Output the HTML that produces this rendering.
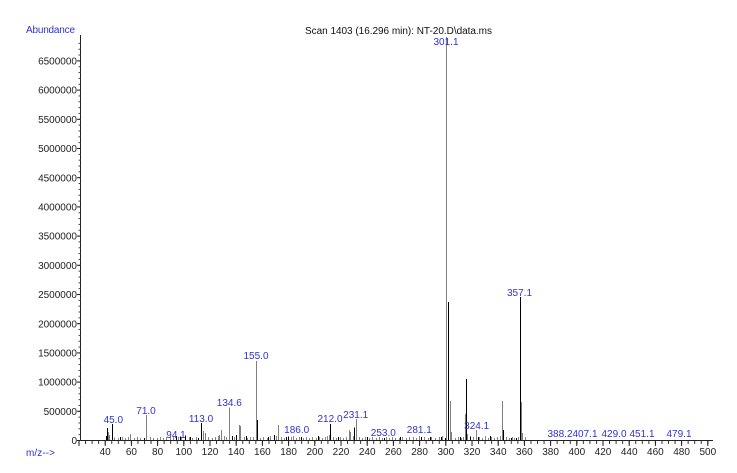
<!DOCTYPE html>
<html><head><meta charset="utf-8"><style>
html,body{margin:0;padding:0;background:#fff;}
svg{display:block;font-family:"Liberation Sans",Arial,sans-serif;}
</style></head><body>
<svg width="737" height="473" viewBox="0 0 737 473" xmlns="http://www.w3.org/2000/svg">
<defs>
<pattern id="xmin" patternUnits="userSpaceOnUse" x="78.5" y="0" width="6.55" height="10"><rect x="0" y="0" width="1" height="10" fill="#333"/></pattern>
<pattern id="xmaj" patternUnits="userSpaceOnUse" x="78.5" y="0" width="26.2" height="10"><rect x="0" y="0" width="1" height="10" fill="#222"/></pattern>
<pattern id="ymin" patternUnits="userSpaceOnUse" x="0" y="440" width="10" height="5.84"><rect x="0" y="0" width="10" height="1" fill="#444"/></pattern>
</defs>
<rect width="737" height="473" fill="#fff"/>

<!-- headers -->
<text x="26" y="33" font-size="10" fill="#3030d8" textLength="49">Abundance</text>
<text x="26" y="456" font-size="10" fill="#3030d8" textLength="29">m/z--&gt;</text>
<text x="305" y="34" font-size="10" fill="#111" textLength="187">Scan 1403 (16.296 min): NT-20.D\data.ms</text>

<!-- axes -->
<line x1="80.5" y1="35" x2="80.5" y2="441" stroke="#222" stroke-width="1"/>
<line x1="80" y1="440.5" x2="713" y2="440.5" stroke="#222" stroke-width="1"/>
<rect x="78.5" y="441" width="635" height="3" fill="url(#xmin)"/>
<rect x="78.5" y="441" width="635" height="5" fill="url(#xmaj)"/>
<rect x="78.5" y="40" width="2" height="401" fill="url(#ymin)"/>

<!-- y ticks -->
<g stroke="#222" stroke-width="1">
<line x1="77" y1="440.5" x2="80" y2="440.5"/><line x1="77" y1="411.3" x2="80" y2="411.3"/><line x1="77" y1="382.1" x2="80" y2="382.1"/><line x1="77" y1="352.9" x2="80" y2="352.9"/><line x1="77" y1="323.7" x2="80" y2="323.7"/><line x1="77" y1="294.5" x2="80" y2="294.5"/><line x1="77" y1="265.3" x2="80" y2="265.3"/><line x1="77" y1="236.1" x2="80" y2="236.1"/><line x1="77" y1="206.9" x2="80" y2="206.9"/><line x1="77" y1="177.7" x2="80" y2="177.7"/><line x1="77" y1="148.5" x2="80" y2="148.5"/><line x1="77" y1="119.3" x2="80" y2="119.3"/><line x1="77" y1="90.1" x2="80" y2="90.1"/><line x1="77" y1="60.9" x2="80" y2="60.9"/>
</g>
<g font-size="10" fill="#222" text-anchor="end">
<text x="77" y="444.1">0</text>
<text x="77" y="414.9">500000</text>
<text x="77" y="385.7">1000000</text>
<text x="77" y="356.5">1500000</text>
<text x="77" y="327.3">2000000</text>
<text x="77" y="298.1">2500000</text>
<text x="77" y="268.9">3000000</text>
<text x="77" y="239.7">3500000</text>
<text x="77" y="210.5">4000000</text>
<text x="77" y="181.3">4500000</text>
<text x="77" y="152.1">5000000</text>
<text x="77" y="122.9">5500000</text>
<text x="77" y="93.7">6000000</text>
<text x="77" y="64.5">6500000</text>
</g>

<!-- x labels -->
<g font-size="10" fill="#222" text-anchor="middle">
<text x="105.2" y="455">40</text><text x="131.4" y="455">60</text><text x="157.6" y="455">80</text><text x="183.8" y="455">100</text><text x="210" y="455">120</text><text x="236.2" y="455">140</text><text x="262.4" y="455">160</text><text x="288.6" y="455">180</text><text x="314.8" y="455">200</text><text x="341" y="455">220</text><text x="367.2" y="455">240</text><text x="393.4" y="455">260</text><text x="419.6" y="455">280</text><text x="445.8" y="455">300</text><text x="472" y="455">320</text><text x="498.2" y="455">340</text><text x="524.4" y="455">360</text><text x="550.6" y="455">380</text><text x="576.8" y="455">400</text><text x="603" y="455">420</text><text x="629.2" y="455">440</text><text x="655.4" y="455">460</text><text x="681.6" y="455">480</text><text x="707.8" y="455">500</text>
</g>

<!-- noise gray -->
<g stroke="#888" stroke-width="1">
<line x1="118.5" y1="440" x2="118.5" y2="438"/><line x1="122.5" y1="440" x2="122.5" y2="437"/><line x1="125.5" y1="440" x2="125.5" y2="438"/><line x1="128.5" y1="440" x2="128.5" y2="437"/><line x1="134.5" y1="440" x2="134.5" y2="438"/><line x1="137.5" y1="440" x2="137.5" y2="437"/><line x1="140.5" y1="440" x2="140.5" y2="438"/><line x1="150.5" y1="440" x2="150.5" y2="437"/><line x1="153.5" y1="440" x2="153.5" y2="438"/><line x1="157.5" y1="440" x2="157.5" y2="438"/><line x1="160.5" y1="440" x2="160.5" y2="437"/><line x1="163.5" y1="440" x2="163.5" y2="438"/><line x1="166.5" y1="440" x2="166.5" y2="437"/><line x1="170.5" y1="440" x2="170.5" y2="437"/><line x1="173.5" y1="440" x2="173.5" y2="436"/><line x1="178.5" y1="440" x2="178.5" y2="438"/><line x1="181.5" y1="440" x2="181.5" y2="437"/><line x1="189.5" y1="440" x2="189.5" y2="437"/><line x1="192.5" y1="440" x2="192.5" y2="438"/><line x1="196.5" y1="440" x2="196.5" y2="437"/><line x1="208.5" y1="440" x2="208.5" y2="437"/><line x1="212.5" y1="440" x2="212.5" y2="438"/><line x1="215.5" y1="440" x2="215.5" y2="437"/><line x1="218.5" y1="440" x2="218.5" y2="436"/><line x1="224.5" y1="440" x2="224.5" y2="436"/><line x1="226.5" y1="440" x2="226.5" y2="437"/><line x1="232.5" y1="440" x2="232.5" y2="438"/><line x1="234.5" y1="440" x2="234.5" y2="437"/><line x1="244.5" y1="440" x2="244.5" y2="437"/><line x1="247.5" y1="440" x2="247.5" y2="438"/><line x1="250.5" y1="440" x2="250.5" y2="437"/><line x1="253.5" y1="440" x2="253.5" y2="437"/><line x1="260.5" y1="440" x2="260.5" y2="438"/><line x1="263.5" y1="440" x2="263.5" y2="437"/><line x1="267.5" y1="440" x2="267.5" y2="438"/><line x1="270.5" y1="440" x2="270.5" y2="436"/><line x1="276.5" y1="440" x2="276.5" y2="436"/><line x1="281.5" y1="440" x2="281.5" y2="437"/><line x1="284.5" y1="440" x2="284.5" y2="438"/><line x1="291.5" y1="440" x2="291.5" y2="437"/><line x1="293.5" y1="440" x2="293.5" y2="436"/><line x1="296.5" y1="440" x2="296.5" y2="438"/><line x1="299.5" y1="440" x2="299.5" y2="437"/><line x1="303.5" y1="440" x2="303.5" y2="438"/><line x1="306.5" y1="440" x2="306.5" y2="437"/><line x1="309.5" y1="440" x2="309.5" y2="438"/><line x1="312.5" y1="440" x2="312.5" y2="437"/><line x1="316.5" y1="440" x2="316.5" y2="438"/><line x1="319.5" y1="440" x2="319.5" y2="437"/><line x1="322.5" y1="440" x2="322.5" y2="438"/><line x1="325.5" y1="440" x2="325.5" y2="437"/><line x1="327.5" y1="440" x2="327.5" y2="436"/><line x1="333.5" y1="440" x2="333.5" y2="437"/><line x1="336.5" y1="440" x2="336.5" y2="438"/><line x1="340.5" y1="440" x2="340.5" y2="437"/><line x1="343.5" y1="440" x2="343.5" y2="438"/><line x1="346.5" y1="440" x2="346.5" y2="437"/><line x1="353.5" y1="440" x2="353.5" y2="436"/><line x1="359.5" y1="440" x2="359.5" y2="437"/><line x1="362.5" y1="440" x2="362.5" y2="438"/><line x1="365.5" y1="440" x2="365.5" y2="437"/><line x1="369.5" y1="440" x2="369.5" y2="438"/><line x1="372.5" y1="440" x2="372.5" y2="437"/><line x1="376.5" y1="440" x2="376.5" y2="438"/><line x1="379.5" y1="440" x2="379.5" y2="437"/><line x1="382.5" y1="440" x2="382.5" y2="438"/><line x1="386.5" y1="440" x2="386.5" y2="437"/><line x1="389.5" y1="440" x2="389.5" y2="438"/><line x1="392.5" y1="440" x2="392.5" y2="437"/><line x1="395.5" y1="440" x2="395.5" y2="438"/><line x1="399.5" y1="440" x2="399.5" y2="438"/><line x1="402.5" y1="440" x2="402.5" y2="437"/><line x1="406.5" y1="440" x2="406.5" y2="438"/><line x1="409.5" y1="440" x2="409.5" y2="437"/><line x1="413.5" y1="440" x2="413.5" y2="437"/><line x1="416.5" y1="440" x2="416.5" y2="438"/><line x1="419.5" y1="440" x2="419.5" y2="436"/><line x1="424.5" y1="440" x2="424.5" y2="437"/><line x1="428.5" y1="440" x2="428.5" y2="438"/><line x1="431.5" y1="440" x2="431.5" y2="437"/><line x1="435.5" y1="440" x2="435.5" y2="438"/><line x1="439.5" y1="440" x2="439.5" y2="437"/><line x1="442.5" y1="440" x2="442.5" y2="436"/><line x1="455.5" y1="440" x2="455.5" y2="438"/><line x1="458.5" y1="440" x2="458.5" y2="437"/><line x1="461.5" y1="440" x2="461.5" y2="438"/><line x1="473.5" y1="440" x2="473.5" y2="437"/><line x1="479.5" y1="440" x2="479.5" y2="437"/><line x1="482.5" y1="440" x2="482.5" y2="438"/><line x1="485.5" y1="440" x2="485.5" y2="436"/><line x1="488.5" y1="440" x2="488.5" y2="438"/><line x1="491.5" y1="440" x2="491.5" y2="437"/><line x1="494.5" y1="440" x2="494.5" y2="438"/><line x1="497.5" y1="440" x2="497.5" y2="437"/><line x1="500.5" y1="440" x2="500.5" y2="436"/><line x1="506.5" y1="440" x2="506.5" y2="437"/><line x1="509.5" y1="440" x2="509.5" y2="438"/><line x1="512.5" y1="440" x2="512.5" y2="437"/><line x1="514.5" y1="440" x2="514.5" y2="438"/><line x1="518.5" y1="440" x2="518.5" y2="437"/><line x1="525.5" y1="440" x2="525.5" y2="437"/>
</g>
<!-- noise black -->
<g stroke="#000" stroke-width="1">
<line x1="106.5" y1="440" x2="106.5" y2="436"/><line x1="120.5" y1="440" x2="120.5" y2="437"/><line x1="144.5" y1="440" x2="144.5" y2="438"/><line x1="176.5" y1="440" x2="176.5" y2="436"/><line x1="180.5" y1="440" x2="180.5" y2="436.5"/><line x1="190.5" y1="440" x2="190.5" y2="437"/><line x1="198.5" y1="440" x2="198.5" y2="438"/><line x1="232.5" y1="440" x2="232.5" y2="436"/><line x1="246.5" y1="440" x2="246.5" y2="436"/><line x1="268.5" y1="440" x2="268.5" y2="437"/><line x1="286.5" y1="440" x2="286.5" y2="437"/><line x1="301.5" y1="440" x2="301.5" y2="437"/><line x1="318.5" y1="440" x2="318.5" y2="436"/><line x1="338.5" y1="440" x2="338.5" y2="437"/><line x1="367.5" y1="440" x2="367.5" y2="437"/><line x1="384.5" y1="440" x2="384.5" y2="438"/><line x1="400.5" y1="440" x2="400.5" y2="437"/><line x1="430.5" y1="440" x2="430.5" y2="437"/><line x1="441.5" y1="440" x2="441.5" y2="437"/><line x1="460.5" y1="440" x2="460.5" y2="437"/><line x1="478.5" y1="440" x2="478.5" y2="437"/><line x1="490.5" y1="440" x2="490.5" y2="436"/><line x1="511.5" y1="440" x2="511.5" y2="438"/>
</g>

<!-- main gray peaks -->
<g stroke="#808080" stroke-width="1">
<line x1="108.5" y1="440" x2="108.5" y2="432"/><line x1="109.5" y1="440" x2="109.5" y2="435"/><line x1="114.5" y1="440" x2="114.5" y2="437.5"/><line x1="130.5" y1="440" x2="130.5" y2="434"/><line x1="146.5" y1="440" x2="146.5" y2="415"/><line x1="203.5" y1="440" x2="203.5" y2="431"/><line x1="205.5" y1="440" x2="205.5" y2="433"/><line x1="219.5" y1="440" x2="219.5" y2="435"/><line x1="221.5" y1="440" x2="221.5" y2="430"/><line x1="229.5" y1="440" x2="229.5" y2="407.5"/><line x1="239.5" y1="440" x2="239.5" y2="425"/><line x1="240.5" y1="440" x2="240.5" y2="426"/><line x1="256.5" y1="440" x2="256.5" y2="361"/><line x1="278.5" y1="440" x2="278.5" y2="425"/><line x1="329.5" y1="440" x2="329.5" y2="435"/><line x1="349.5" y1="440" x2="349.5" y2="430"/><line x1="350.5" y1="440" x2="350.5" y2="432"/><line x1="356.5" y1="440" x2="356.5" y2="419"/><line x1="446.5" y1="440" x2="446.5" y2="37"/><line x1="450.5" y1="440" x2="450.5" y2="401"/><line x1="451.5" y1="440" x2="451.5" y2="432"/><line x1="463.5" y1="440" x2="463.5" y2="437"/><line x1="465.5" y1="440" x2="465.5" y2="414"/><line x1="467.5" y1="440" x2="467.5" y2="434"/><line x1="476.5" y1="440" x2="476.5" y2="430"/><line x1="502.5" y1="440" x2="502.5" y2="401"/><line x1="521.5" y1="440" x2="521.5" y2="402"/><line x1="522.5" y1="440" x2="522.5" y2="433"/>
</g>
<!-- main black peaks -->
<g stroke="#000" stroke-width="1">
<line x1="107.5" y1="440" x2="107.5" y2="428"/><line x1="112.5" y1="440" x2="112.5" y2="424"/><line x1="185.5" y1="440" x2="185.5" y2="435.5"/><line x1="201.5" y1="440" x2="201.5" y2="423"/><line x1="236.5" y1="440" x2="236.5" y2="435"/><line x1="257.5" y1="440" x2="257.5" y2="420"/><line x1="274.5" y1="440" x2="274.5" y2="435"/><line x1="288.5" y1="440" x2="288.5" y2="436.5"/><line x1="330.5" y1="440" x2="330.5" y2="424"/><line x1="354.5" y1="440" x2="354.5" y2="427.5"/><line x1="421.5" y1="440" x2="421.5" y2="437"/><line x1="445.5" y1="440" x2="445.5" y2="438"/><line x1="448.5" y1="440" x2="448.5" y2="302"/><line x1="466.5" y1="440" x2="466.5" y2="379"/><line x1="470.5" y1="440" x2="470.5" y2="436.5"/><line x1="503.5" y1="440" x2="503.5" y2="430"/><line x1="516.5" y1="440" x2="516.5" y2="438"/><line x1="520.5" y1="440" x2="520.5" y2="297"/>
</g>

<!-- peak labels -->
<g font-size="10" fill="#3030d8" text-anchor="middle">
<text x="446" y="45">301.1</text>
<text x="519.5" y="296">357.1</text>
<text x="256" y="359">155.0</text>
<text x="229.3" y="406">134.6</text>
<text x="201" y="422">113.0</text>
<text x="146" y="414">71.0</text>
<text x="113.3" y="423">45.0</text>
<text x="176" y="438">94.1</text>
<text x="296.7" y="433">186.0</text>
<text x="330" y="422">212.0</text>
<text x="355.7" y="418">231.1</text>
<text x="383.3" y="436">253.0</text>
<text x="419.3" y="433">281.1</text>
<text x="476.7" y="429">324.1</text>
<text x="560" y="437">388.2</text>
<text x="585" y="437">407.1</text>
<text x="614" y="437">429.0</text>
<text x="642" y="437">451.1</text>
<text x="679" y="437">479.1</text>
</g>
</svg>
</body></html>
